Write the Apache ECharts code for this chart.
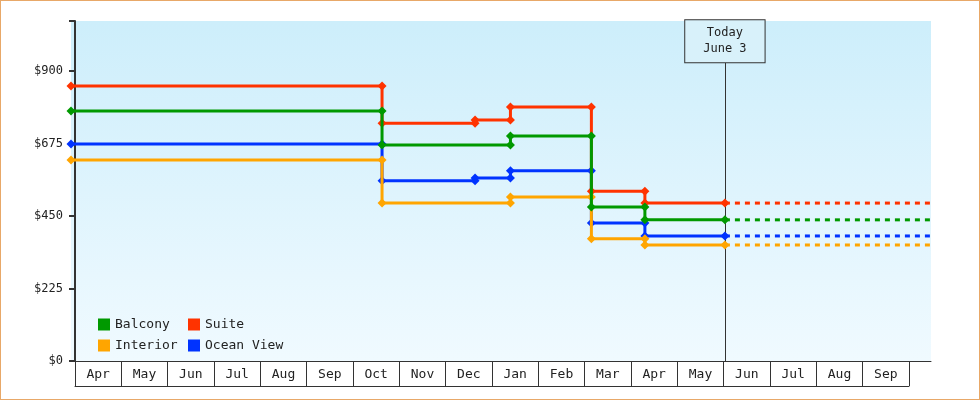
<!DOCTYPE html>
<html><head><meta charset="utf-8">
<script src="https://cdn.jsdelivr.net/npm/echarts@6/dist/echarts.min.js"></script>
<style>html,body{margin:0;padding:0;background:#fff}#c{width:978px;height:398px;border:1px solid #e8a868}</style>
</head><body><div id="c"></div>
<script>
const months = ['Apr','May','Jun','Jul','Aug','Sep','Oct','Nov','Dec','Jan','Feb','Mar','Apr','May','Jun','Jul','Aug','Sep'];
const yTicks = [0,225,450,675,900];
const todayX = 13.97;
const endX = 18.4;
const startX = -0.086;
const balcony = [[startX,776],[6.6,776],[6.6,670],[9.36,670],[9.36,698],[11.1,698],[11.1,478],[12.25,478],[12.25,438],[todayX,438]];
const suite = [[startX,853],[6.6,853],[6.6,738],[8.6,738],[8.6,748],[9.36,748],[9.36,788],[11.1,788],[11.1,527],[12.25,527],[12.25,490],[todayX,490]];
const interior = [[startX,624],[6.6,624],[6.6,490],[9.36,490],[9.36,509],[11.1,509],[11.1,379],[12.25,379],[12.25,360],[todayX,360]];
const ocean = [[startX,673],[6.6,673],[6.6,559],[8.6,559],[8.6,568],[9.36,568],[9.36,590],[11.1,590],[11.1,428],[12.25,428],[12.25,388],[todayX,388]];
const names = ['Balcony','Suite','Interior','Ocean View'];
const colors = ['#009900','#ff3300','#ffa500','#0033ff'];
const datas = [balcony, suite, interior, ocean];
const font = 'DejaVu Sans Mono';
const series = [];
datas.forEach((d,i)=>{
  series.push({name:names[i],type:'line',data:d,symbol:'diamond',symbolSize:9,
    lineStyle:{width:3,color:colors[i]},itemStyle:{color:colors[i]},z:10-i,animation:false});
  series.push({name:names[i]+' f',type:'line',data:[[todayX,d[d.length-1][1]],[endX,d[d.length-1][1]]],symbol:'none',
    lineStyle:{width:3,type:[5,5],color:colors[i]},animation:false});
});
series[0].markLine = {silent:true,symbol:'none',animation:false,
  lineStyle:{color:'#333',width:1,type:'solid'},
  label:{show:true,position:'end',formatter:'Today\nJune 3',fontFamily:font,fontSize:12,color:'#222',
    backgroundColor:'#d8f1fa',borderColor:'#333',borderWidth:1,padding:[5,18,5,18],lineHeight:16,distance:0},
  data:[[{coord:[todayX,0]},{coord:[todayX,927]}]]};
series.push({type:'line',xAxisIndex:1,yAxisIndex:1,data:[],silent:true});
const chart = echarts.init(document.getElementById('c'));
chart.setOption({
  animation:false,
  grid:[{left:70,right:48,top:20,bottom:38,show:true,borderWidth:0,
    backgroundColor:{type:'linear',x:0,y:0,x2:0,y2:1,colorStops:[{offset:0,color:'#cdeefb'},{offset:1,color:'#f0faff'}]}},
    {left:74,width:834,top:360,height:25}],
  xAxis:[{type:'value',min:startX,max:endX,axisLine:{show:true,lineStyle:{color:'#333',width:1}},axisTick:{show:false},axisLabel:{show:false},splitLine:{show:false}},
    {type:'category',gridIndex:1,data:months,boundaryGap:true,position:'bottom',
     axisLine:{show:true,lineStyle:{color:'#333'}},axisTick:{show:true,inside:true,length:25,lineStyle:{color:'#333'}},
     axisLabel:{margin:-18,fontFamily:font,fontSize:13,color:'#222'}}],
  yAxis:[{type:'value',min:0,max:1055,interval:225,axisLine:{show:true,lineStyle:{color:'#333',width:2}},
    axisTick:{show:true,length:6,lineStyle:{color:'#333',width:2}},splitLine:{show:false},
    axisLabel:{fontFamily:font,fontSize:12,color:'#222',formatter:v=>yTicks.includes(v)?'$'+v:''}},
    {type:'value',gridIndex:1,show:false}],
  legend:[{data:['Balcony','Interior'],orient:'vertical',left:92,top:312,itemWidth:12,itemHeight:12,itemGap:8,icon:'rect',
    textStyle:{fontFamily:font,fontSize:13,color:'#222'},itemStyle:{borderWidth:0}},
    {data:['Suite','Ocean View'],orient:'vertical',left:182,top:312,itemWidth:12,itemHeight:12,itemGap:8,icon:'rect',
    textStyle:{fontFamily:font,fontSize:13,color:'#222'}}],
  series
});
</script></body></html>
